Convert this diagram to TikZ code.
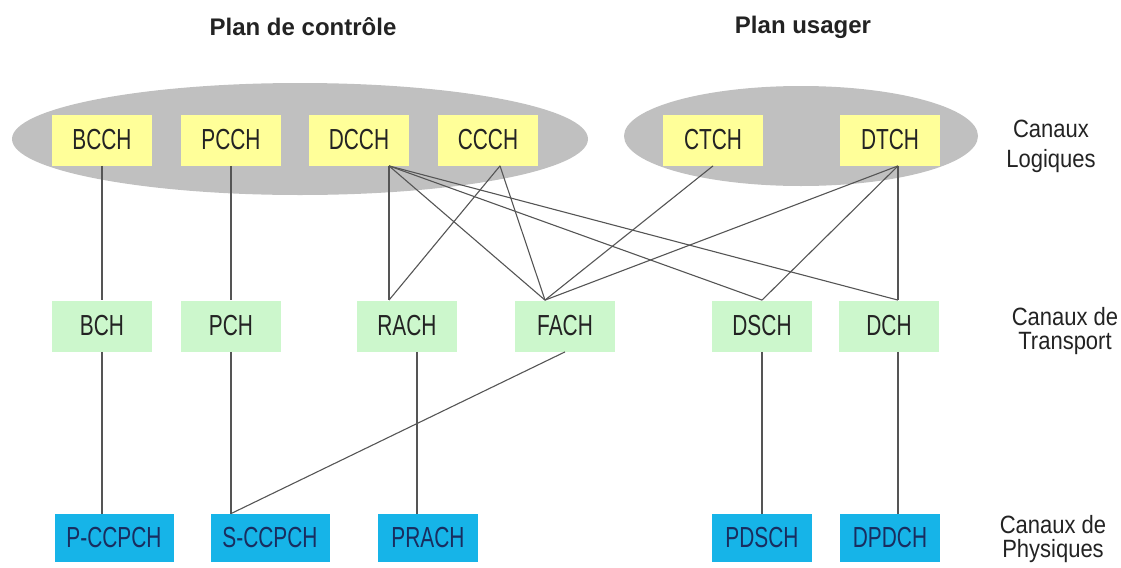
\documentclass[tikz,border=0pt]{standalone}
\usepackage{fontspec}
\setmainfont{Liberation Sans}
\newfontfamily\chanfont[FakeStretch=0.72]{Liberation Sans}
\newfontfamily\sidefont[FakeStretch=0.88]{Liberation Sans}
\usepackage{tikz}
\usetikzlibrary{positioning,calc}
\definecolor{logyellow}{RGB}{255,255,153}
\definecolor{transgreen}{RGB}{204,247,204}
\definecolor{physblue}{RGB}{22,180,232}
\definecolor{planegray}{RGB}{192,192,192}
\definecolor{linkgray}{RGB}{85,85,85}
\definecolor{chantext}{RGB}{35,35,35}
\definecolor{phystext}{RGB}{25,45,95}

\begin{document}
\begin{tikzpicture}[x=0.5pt,y=-0.5pt,
    chan/.style={inner sep=0pt,minimum width=50pt,font=\chanfont\fontsize{14.5}{16}\selectfont},
    logic/.style={chan,fill=logyellow,minimum height=25.5pt,text=chantext},
    trans/.style={chan,fill=transgreen,minimum height=25.5pt,text=chantext},
    phys/.style={chan,fill=physblue,minimum height=24pt,text=phystext},
    title/.style={font=\bfseries\fontsize{12}{14}\selectfont,text=chantext},
    side/.style={align=center,font=\sidefont\fontsize{12.5}{12}\selectfont,text=chantext},
    link/.style={draw=linkgray,line width=0.55pt}]
    \useasboundingbox (0,0) rectangle (1121,568);

    % plans
    \fill[planegray] (300,139) ellipse [x radius=144pt,y radius=28pt];
    \fill[planegray] (801,136) ellipse [x radius=88.5pt,y radius=25pt];
    \node[title] (ctrl) at (303,27) {Plan de contrôle};
    \node[title] (user) at (803,27) {Plan usager};

    % canaux logiques
    \node[logic] (BCCH) at (102,140) {BCCH};
    \node[logic] (PCCH) at (231,140) {PCCH};
    \node[logic] (DCCH) at (359,140) {DCCH};
    \node[logic] (CCCH) at (488,140) {CCCH};
    \node[logic] (CTCH) at (713,140) {CTCH};
    \node[logic] (DTCH) at (890,140) {DTCH};

    % canaux de transport
    \node[trans] (BCH) at (102,326) {BCH};
    \node[trans] (PCH) at (231,326) {PCH};
    \node[trans] (RACH) at (407,326) {RACH};
    \node[trans] (FACH) at (565,326) {FACH};
    \node[trans] (DSCH) at (762,326) {DSCH};
    \node[trans] (DCH) at (889,326) {DCH};

    % canaux physiques
    \node[phys,minimum width=59.5pt] (PCCPCH) at (114,538) {P-CCPCH};
    \node[phys,minimum width=59.5pt] (SCCPCH) at (270,538) {S-CCPCH};
    \node[phys] (PRACH) at (428,538) {PRACH};
    \node[phys] (PDSCH) at (762,538) {PDSCH};
    \node[phys] (DPDCH) at (890,538) {DPDCH};

    \node[side] (lblLog) at (1051,146) {Canaux\\[3pt]Logiques};
    \node[side] (lblTrans) at (1065,331) {Canaux de\\Transport};
    \node[side] (lblPhys) at (1053,539) {Canaux de\\Physiques};

    % points d'attache
    \coordinate (DCCHo) at ($(DCCH.south)+(30,0)$);
    \coordinate (CCCHo) at ($(CCCH.south)+(12,0)$);
    \coordinate (DTCHo) at ($(DTCH.south)+(8,0)$);
    \coordinate (RACHi) at (DCCHo |- RACH.north);
    \coordinate (FACHi) at ($(FACH.north)+(-20,0)$);
    \coordinate (DCHi) at (DTCHo |- DCH.north);
    \coordinate (RACHo) at ($(RACH.south)+(10,0)$);
    \coordinate (DCHo) at (DTCHo |- DCH.south);

    \draw[link] (BCCH) -- (BCH);
    \draw[link] (PCCH) -- (PCH);
    \draw[link] (DCCHo) -- (RACHi);
    \draw[link] (DCCHo) -- (FACHi);
    \draw[link] (DCCHo) -- (DSCH.north);
    \draw[link] (DCCHo) -- (DCHi);
    \draw[link] (CCCHo) -- (RACHi);
    \draw[link] (CCCHo) -- (FACHi);
    \draw[link] (CTCH.south) -- (FACHi);
    \draw[link] (DTCHo) -- (FACHi);
    \draw[link] (DTCHo) -- (DSCH.north);
    \draw[link] (DTCHo) -- (DCHi);

    \draw[link] (BCH.south) -- (BCH.south |- PCCPCH.north);
    \draw[link] (PCH.south) -- (PCH.south |- SCCPCH.north);
    \draw[link] (FACH.south) -- (PCH.south |- SCCPCH.north);
    \draw[link] (RACHo) -- (RACHo |- PRACH.north);
    \draw[link] (DSCH) -- (PDSCH);
    \draw[link] (DCHo) -- (DCHo |- DPDCH.north);
\end{tikzpicture}
\end{document}
